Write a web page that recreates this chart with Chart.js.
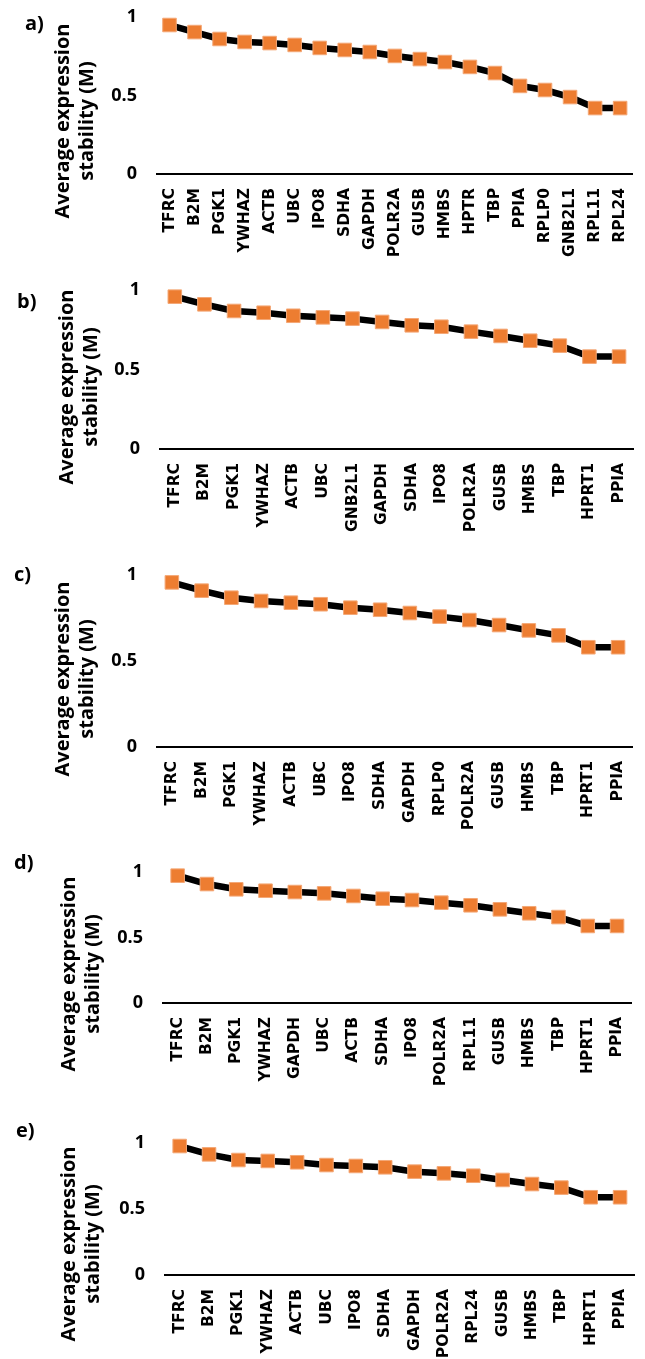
<!DOCTYPE html>
<html><head><meta charset="utf-8">
<script src="https://cdn.jsdelivr.net/npm/chart.js@4.4.1/dist/chart.umd.min.js"></script>
<style>
html,body{margin:0;padding:0;width:645px;height:1359px;overflow:hidden;background:#fff;position:relative}
canvas{position:absolute;left:0}
</style></head><body>
<canvas id="ca"></canvas><canvas id="cb"></canvas><canvas id="cc"></canvas><canvas id="cd"></canvas><canvas id="ce"></canvas>
<script>
// ---- data ----
const yTickValues = [0, 0.5, 1];
const yTitle = ['Average expression', 'stability (M)'];

const catsA = ['TFRC','B2M','PGK1','YWHAZ','ACTB','UBC','IPO8','SDHA','GAPDH','POLR2A','GUSB','HMBS','HPTR','TBP','PPIA','RPLP0','GNB2L1','RPL11','RPL24'];
const valsA = [0.949,0.904,0.860,0.841,0.834,0.822,0.803,0.790,0.777,0.752,0.732,0.713,0.682,0.643,0.561,0.535,0.490,0.420,0.420];

const catsB = ['TFRC','B2M','PGK1','YWHAZ','ACTB','UBC','GNB2L1','GAPDH','SDHA','IPO8','POLR2A','GUSB','HMBS','TBP','HPRT1','PPIA'];
const valsB = [0.958,0.910,0.868,0.857,0.838,0.828,0.820,0.799,0.778,0.769,0.738,0.711,0.681,0.650,0.581,0.581];

const catsC = ['TFRC','B2M','PGK1','YWHAZ','ACTB','UBC','IPO8','SDHA','GAPDH','RPLP0','POLR2A','GUSB','HMBS','TBP','HPRT1','PPIA'];
const valsC = [0.957,0.909,0.868,0.849,0.839,0.830,0.810,0.798,0.779,0.758,0.738,0.709,0.678,0.649,0.580,0.580];

const catsD = ['TFRC','B2M','PGK1','YWHAZ','GAPDH','UBC','ACTB','SDHA','IPO8','POLR2A','RPL11','GUSB','HMBS','TBP','HPRT1','PPIA'];
const valsD = [0.972,0.908,0.868,0.857,0.847,0.837,0.817,0.796,0.786,0.766,0.746,0.715,0.685,0.656,0.588,0.588];

const catsE = ['TFRC','B2M','PGK1','YWHAZ','ACTB','UBC','IPO8','SDHA','GAPDH','POLR2A','RPL24','GUSB','HMBS','TBP','HPRT1','PPIA'];
const valsE = [0.977,0.914,0.871,0.864,0.854,0.833,0.826,0.816,0.783,0.770,0.752,0.720,0.689,0.662,0.589,0.589];

// ---- layout (pixels) ----
const PAD = 32, XH = 100;
const panels = [
  {id:'ca', label:'a)', cats:catsA, vals:valsA, top:17,   bottom:174,  left:157, right:653, lab:[25,24],   tx:[63,87], ty:121},
  {id:'cb', label:'b)', cats:catsB, vals:valsB, top:290,  bottom:449,  left:160, right:652, lab:[17,302],  tx:[67,91], ty:387},
  {id:'cc', label:'c)', cats:catsC, vals:valsC, top:575,  bottom:747,  left:157, right:651, lab:[14,575],  tx:[63,87], ty:679},
  {id:'cd', label:'d)', cats:catsD, vals:valsD, top:872,  bottom:1003, left:163, right:650, lab:[14,863],  tx:[69,93], ty:974},
  {id:'ce', label:'e)', cats:catsE, vals:valsE, top:1143, bottom:1275, left:165, right:653, lab:[16,1131], tx:[69,93], ty:1244}
];

const textPlugin = {
  id: 'panelText',
  afterDraw(chart, args, opts) {
    const p = opts.panel, ctx = chart.ctx, off = p.top - PAD;
    ctx.save();
    ctx.fillStyle = '#000';
    ctx.font = 'bold 20px "Open Sans"';
    ctx.textAlign = 'left';
    ctx.textBaseline = 'middle';
    ctx.fillText(p.label, p.lab[0], p.lab[1] - off);
    ctx.textAlign = 'center';
    yTitle.forEach((line, i) => {
      ctx.save();
      ctx.translate(p.tx[i], p.ty - off);
      ctx.rotate(-Math.PI / 2);
      ctx.fillText(line, 0, 0);
      ctx.restore();
    });
    ctx.restore();
  }
};

panels.forEach(p => {
  const cv = document.getElementById(p.id);
  cv.width = p.right;
  cv.height = PAD + (p.bottom - p.top) + XH;
  cv.style.top = (p.top - PAD) + 'px';
  new Chart(cv, {
    type: 'line',
    data: {
      labels: p.cats,
      datasets: [{
        data: p.vals,
        borderColor: '#000',
        borderWidth: 6.5,
        tension: 0,
        pointStyle: 'rect',
        pointRadius: 9.6,
        pointHoverRadius: 9.6,
        pointBackgroundColor: '#ED7D31',
        pointBorderColor: '#F4A877',
        pointBorderWidth: 1,
        clip: false
      }]
    },
    options: {
      responsive: false,
      devicePixelRatio: 1,
      animation: false,
      events: [],
      layout: {padding: {top: PAD, left: 0, right: 0, bottom: 0}},
      plugins: {legend: {display: false}, tooltip: {enabled: false}, panelText: {panel: p}},
      scales: {
        x: {
          offset: true,
          grid: {display: false, drawTicks: false, tickLength: 0},
          border: {display: true, color: '#000', width: 2},
          ticks: {autoSkip: false, maxRotation: 90, minRotation: 90, padding: 14, color: '#000',
                  font: {family: '"DejaVu Sans"', weight: 'bold', size: 15.5}},
          afterFit(s) { s.height = XH; }
        },
        y: {
          min: 0, max: 1,
          grid: {display: false, drawTicks: false, tickLength: 0},
          border: {display: false},
          afterBuildTicks(s) { s.ticks = yTickValues.map(v => ({value: v})); },
          ticks: {padding: 20, color: '#000', font: {family: 'Open Sans', weight: 'bold', size: 18},
                  callback: v => String(v)},
          afterFit(s) { s.width = p.left; }
        }
      }
    },
    plugins: [textPlugin]
  });
});
</script>
</body></html>
